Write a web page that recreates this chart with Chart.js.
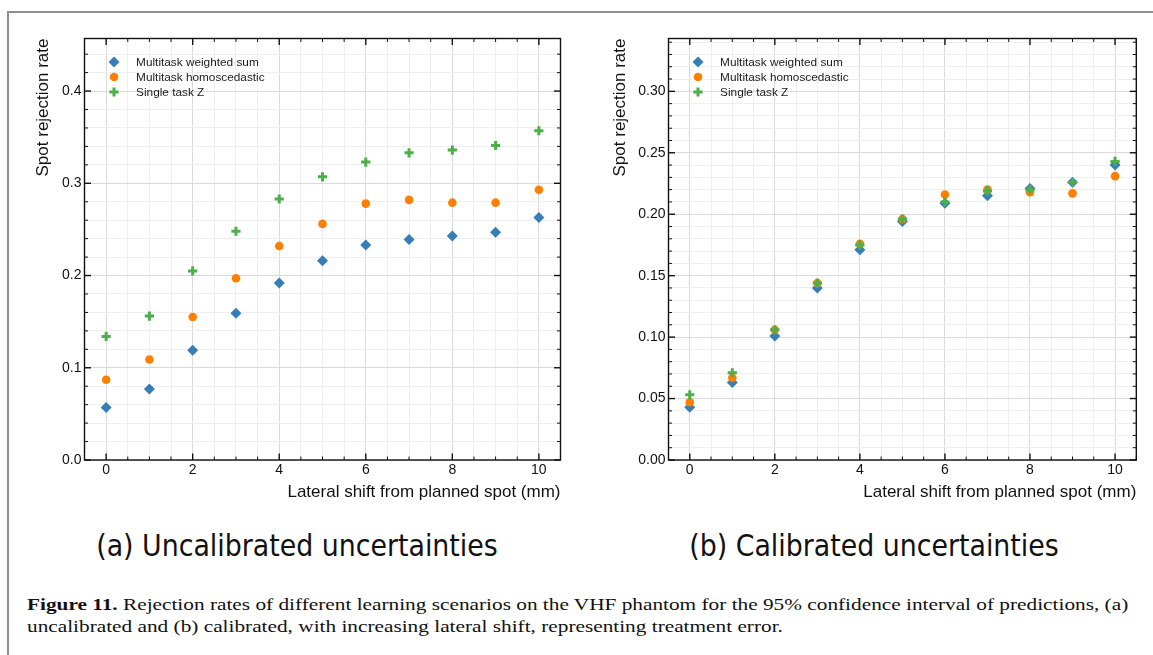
<!DOCTYPE html>
<html><head><meta charset="utf-8">
<script src="https://cdn.jsdelivr.net/npm/chart.js@4.4.1/dist/chart.umd.min.js"></script>
<style>
html,body{margin:0;padding:0;background:#fff;}
#root{position:relative;width:1153px;height:655px;overflow:hidden;background:#fff;}
#frame{position:absolute;left:7px;top:11px;width:1200px;height:700px;border-top:2px solid #8f8f8f;border-left:2px solid #8f8f8f;}
.cv{position:absolute;top:0;}
.sub{position:absolute;top:528px;font-family:"DejaVu Sans Condensed";font-size:29.8px;line-height:36px;color:#111;white-space:nowrap;transform:translateX(-50%);}
.capl{position:absolute;left:27px;font-family:"Liberation Serif";font-size:16.8px;line-height:20px;color:#111;white-space:nowrap;transform-origin:0 0;}
</style></head>
<body><div id="root">
<div id="frame"></div>
<div class="cv" style="left:0;width:580px;height:510px"><canvas id="cA" width="580" height="510"></canvas></div>
<div class="cv" style="left:580px;width:573px;height:510px"><canvas id="cB" width="573" height="510"></canvas></div>
<div class="sub" style="left:297px">(a) Uncalibrated uncertainties</div>
<div class="sub" style="left:874px">(b) Calibrated uncertainties</div>
<div class="capl" id="cap1" style="top:595px"><b>Figure 11.</b> Rejection rates of different learning scenarios on the VHF phantom for the 95% confidence interval of predictions, (a)</div>
<div class="capl" id="cap2" style="top:617px">uncalibrated and (b) calibrated, with increasing lateral shift, representing treatment error.</div>
</div>
<script>
// ---- data ----
const shifts = [0, 1, 2, 3, 4, 5, 6, 7, 8, 9, 10];
const seriesNames = ["Multitask weighted sum", "Multitask homoscedastic", "Single task Z"];
// (a) uncalibrated
const uncalWeighted = [0.057, 0.077, 0.119, 0.159, 0.192, 0.216, 0.233, 0.239, 0.243, 0.247, 0.263];
const uncalHomo     = [0.087, 0.109, 0.155, 0.197, 0.232, 0.256, 0.278, 0.282, 0.279, 0.279, 0.293];
const uncalSingle   = [0.134, 0.156, 0.205, 0.248, 0.283, 0.307, 0.323, 0.333, 0.336, 0.341, 0.357];
// (b) calibrated
const calWeighted = [0.043, 0.063, 0.101, 0.140, 0.171, 0.194, 0.209, 0.215, 0.221, 0.226, 0.240];
const calHomo     = [0.047, 0.067, 0.106, 0.144, 0.176, 0.196, 0.216, 0.220, 0.218, 0.217, 0.231];
const calSingle   = [0.053, 0.071, 0.106, 0.144, 0.175, 0.196, 0.210, 0.219, 0.220, 0.226, 0.243];
// axis tick labels
const xTickLabels = ["0", "2", "4", "6", "8", "10"];
const yTickLabelsA = ["0.0", "0.1", "0.2", "0.3", "0.4"];
const yTickLabelsB = ["0.00", "0.05", "0.10", "0.15", "0.20", "0.25", "0.30"];
const xTitle = "Lateral shift from planned spot (mm)";
const yTitle = "Spot rejection rate";

const COLORS = ["#377eb8", "#ff7f00", "#4daf4a"];
const FONT = '"Liberation Sans", Arial, sans-serif';

function isMult(v, step){ const r = v / step; return Math.abs(r - Math.round(r)) < 1e-6; }

const frameTicks = {
  id: 'frameTicks',
  afterDraw(chart, args, o){
    const {ctx, chartArea: a, scales} = chart;
    const x = scales.x, y = scales.y;
    ctx.save();
    ctx.strokeStyle = '#111';
    const seg = (x1,y1,x2,y2,w)=>{ctx.lineWidth=w;ctx.beginPath();ctx.moveTo(x1,y1);ctx.lineTo(x2,y2);ctx.stroke();};
    x.ticks.forEach(t=>{
      const v=t.value; if(!isMult(v,o.xMinor)) return;
      const maj=isMult(v,o.xMajor); const L=maj?6.5:3.5, w=maj?1.4:1;
      const p=x.getPixelForValue(v);
      seg(p,a.bottom,p,a.bottom-L,w); seg(p,a.top,p,a.top+L,w);
    });
    y.ticks.forEach(t=>{
      const v=t.value; if(!isMult(v,o.yMinor)) return;
      const maj=isMult(v,o.yMajor); const L=maj?6.5:3.5, w=maj?1.4:1;
      const p=y.getPixelForValue(v);
      seg(a.left,p,a.left+L,p,w); seg(a.right,p,a.right-L,p,w);
    });
    ctx.lineWidth=1.4;
    ctx.strokeRect(a.left,a.top,a.right-a.left,a.bottom-a.top);
    ctx.restore();
  }
};

const innerLegend = {
  id: 'innerLegend',
  afterDraw(chart){
    const {ctx, chartArea: a} = chart;
    chart.data.datasets.forEach((ds,i)=>{
      const cx=a.left+29.5, cy=a.top+23.5+i*15;
      ctx.save();
      ctx.fillStyle=ds.backgroundColor; ctx.strokeStyle=ds.borderColor;
      ctx.lineWidth=ds.borderWidth;
      Chart.helpers.drawPoint(ctx,{pointStyle:ds.pointStyle,radius:ds.pointRadius,borderWidth:ds.borderWidth,rotation:0},cx,cy);
      ctx.fillStyle='#1a1a1a'; ctx.font='11.8px '+FONT; ctx.textBaseline='middle'; ctx.textAlign='left';
      ctx.fillText(ds.label,a.left+51.6,cy+0.5);
      ctx.restore();
    });
  }
};

function makeDatasets(w,h,s){
  const pts = arr => shifts.map((x,i)=>({x, y: arr[i]}));
  return [
    {label:seriesNames[0],data:pts(w),pointStyle:'rectRot',pointRadius:5.5,backgroundColor:COLORS[0],borderColor:COLORS[0],borderWidth:0,order:3},
    {label:seriesNames[1],data:pts(h),pointStyle:'circle',pointRadius:4.3,backgroundColor:COLORS[1],borderColor:COLORS[1],borderWidth:0,order:2},
    {label:seriesNames[2],data:pts(s),pointStyle:'cross',pointRadius:4.6,backgroundColor:COLORS[2],borderColor:COLORS[2],borderWidth:3,order:1}
  ];
}

function makeChart(id, data, cfg){
  const gridColor = (step)=> c => (c.tick && isMult(c.tick.value, step)) ? '#dadada' : '#efefef';
  return new Chart(document.getElementById(id), {
    type:'scatter',
    data:{datasets:data},
    options:{
      responsive:false, animation:false,
      layout:{padding:{top:38.5,right:cfg.padRight,left:0,bottom:0}},
      plugins:{legend:{display:false},tooltip:{enabled:false},
        frameTicks:{xMinor:0.5,xMajor:2,yMinor:cfg.yMinor,yMajor:cfg.yMajor}},
      scales:{
        x:{type:'linear',min:-0.5,max:10.5,
          border:{display:false},
          grid:{drawTicks:false,color:gridColor(2),lineWidth:1},
          ticks:{stepSize:0.5,autoSkip:false,includeBounds:false,padding:2,maxRotation:0,
            font:{family:FONT,size:14},color:'#111',
            callback:v=>{ if(!isMult(v,2)) return ''; const k=Math.round(v/2); return xTickLabels[k] ?? ''; }},
          title:{display:true,text:xTitle,align:'end',font:{family:FONT,size:17},color:'#111',padding:{top:0,bottom:7.5}},
          afterFit:s=>{s.height=50;}
        },
        y:{type:'linear',min:0,max:cfg.yMax,
          border:{display:false},
          grid:{drawTicks:false,color:gridColor(cfg.yMajor),lineWidth:1},
          ticks:{stepSize:cfg.yMinor,autoSkip:false,includeBounds:false,padding:3,
            font:{family:FONT,size:14},color:'#111',
            callback:v=>{ if(!isMult(v,cfg.yMajor)) return ''; const k=Math.round(v/cfg.yMajor); return cfg.yLabels[k] ?? ''; }},
          title:{display:true,text:yTitle,align:'end',font:{family:FONT,size:17},color:'#111',padding:{top:cfg.yTitlePad,bottom:0}},
          afterFit:s=>{s.width=cfg.yWidth;}
        }
      }
    },
    plugins:[frameTicks, innerLegend]
  });
}

makeChart('cA', makeDatasets(uncalWeighted,uncalHomo,uncalSingle),
  {yMax:0.457,yMinor:0.02,yMajor:0.1,yLabels:yTickLabelsA,yWidth:84.5,padRight:19.5,yTitlePad:33});
makeChart('cB', makeDatasets(calWeighted,calHomo,calSingle),
  {yMax:0.343,yMinor:0.01,yMajor:0.05,yLabels:yTickLabelsB,yWidth:88.5,padRight:16.7,yTitlePad:30});

// fit caption width
(function(){
  const c1=document.getElementById('cap1'), c2=document.getElementById('cap2');
  const s = 1101 / c1.offsetWidth;
  c1.style.transform='scaleX('+s+')'; c2.style.transform='scaleX('+s+')';
})();
</script>
</body></html>
